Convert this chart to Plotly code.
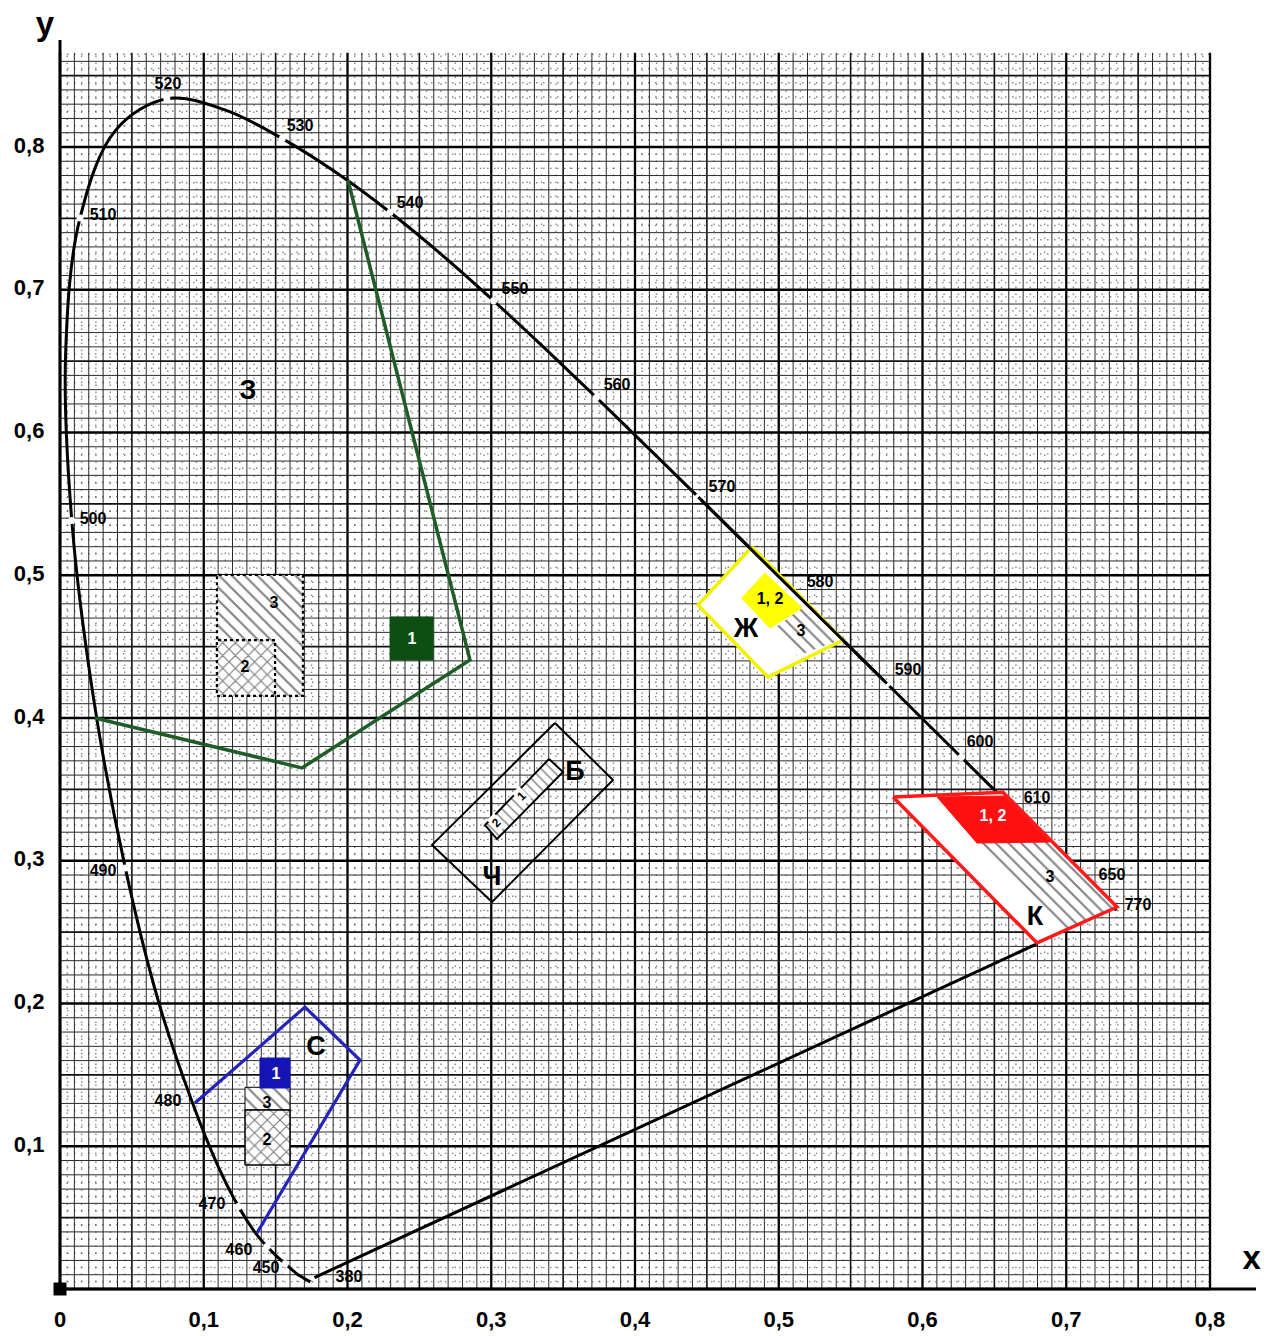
import numpy as np
import plotly.graph_objects as go

# ---------------- data ----------------
# spectral locus (wavelength, x, y)
locus_wl = [380, 440, 445, 450, 455, 460, 465, 470, 475, 480, 485, 490, 495, 500, 505, 510,
            515, 520, 525, 530, 535, 540, 545, 550, 555, 560, 565, 570, 575, 580, 585, 590,
            595, 600, 605, 610, 620, 630, 640, 650, 700]
locus_x = [0.1741, 0.1644, 0.1611, 0.1566, 0.1510, 0.1440, 0.1355, 0.1241, 0.1096, 0.0913,
           0.0687, 0.0454, 0.0235, 0.0082, 0.0039, 0.0139, 0.0389, 0.0743, 0.1142, 0.1547,
           0.1929, 0.2296, 0.2658, 0.3016, 0.3373, 0.3731, 0.4087, 0.4441, 0.4788, 0.5125,
           0.5448, 0.5752, 0.6029, 0.6270, 0.6482, 0.6658, 0.6915, 0.7079, 0.7190, 0.7260, 0.7347]
locus_y = [0.0050, 0.0109, 0.0138, 0.0177, 0.0227, 0.0297, 0.0399, 0.0578, 0.0868, 0.1327,
           0.2007, 0.2950, 0.4127, 0.5384, 0.6548, 0.7502, 0.8120, 0.8338, 0.8262, 0.8059,
           0.7816, 0.7543, 0.7243, 0.6923, 0.6589, 0.6245, 0.5896, 0.5547, 0.5202, 0.4866,
           0.4544, 0.4242, 0.3965, 0.3725, 0.3514, 0.3340, 0.3083, 0.2920, 0.2809, 0.2740, 0.2653]

# label points (gaps in the locus)
gap_wl = [450, 460, 470, 490, 500, 510, 520, 530, 540, 550, 560, 570, 590, 600]

# wavelength labels
wl_text = ["520", "530", "540", "550", "560", "570", "580", "590", "600", "610", "650", "770",
           "510", "500", "490", "480", "470", "460", "450", "380"]
wl_tx = [0.0751, 0.1670, 0.2435, 0.3165, 0.3875, 0.4605, 0.5287, 0.5899, 0.6400, 0.6797,
         0.7318, 0.7499, 0.0299, 0.0230, 0.0299, 0.0751, 0.1057, 0.1245, 0.1433, 0.2010]
wl_ty = [0.8434, 0.8140, 0.7600, 0.6998, 0.6326, 0.5611, 0.4946, 0.4329, 0.3825, 0.3433,
         0.2893, 0.2683, 0.7517, 0.5387, 0.2921, 0.1310, 0.0588, 0.0266, 0.0140, 0.0077]

# purple line
purple_x = [0.177, 0.680]
purple_y = [0.008, 0.242]

# green region (З)
green_x = [0.2003, 0.2852, 0.1683, 0.0243]
green_y = [0.7769, 0.4406, 0.3650, 0.4000]
green1_x = [0.2296, 0.2595]; green1_y = [0.4406, 0.4708]
green3_x = [0.1092, 0.1690]; green3_y = [0.4155, 0.5002]
green2_x = [0.1092, 0.1496]; green2_y = [0.4155, 0.4546]

# blue region (С)
blue_x = [0.0939, 0.1704, 0.2087, 0.1370]
blue_y = [0.1303, 0.1975, 0.1604, 0.0392]
blue1_x = [0.1391, 0.1600]; blue1_y = [0.1408, 0.1618]
blue3_x = [0.1287, 0.1600]; blue3_y = [0.1254, 0.1413]
blue2_x = [0.1287, 0.1600]; blue2_y = [0.0869, 0.1254]

# yellow region (Ж)
yel_x = [0.4814, 0.5447, 0.4925, 0.4438]
yel_y = [0.5198, 0.4546, 0.4287, 0.4792]
yel12_x = [0.4742, 0.4904, 0.5162, 0.4939]
yel12_y = [0.4839, 0.5016, 0.4771, 0.4630]
yel3_x = [0.4981, 0.5162, 0.5426, 0.5127]
yel3_y = [0.4637, 0.4771, 0.4546, 0.4434]

# red region (К)
red_x = [0.5795, 0.6560, 0.7353, 0.6797]
red_y = [0.3447, 0.3480, 0.2676, 0.2424]
red12_x = [0.6101, 0.6595, 0.6887, 0.6379]
red12_y = [0.3447, 0.3454, 0.3131, 0.3124]
red3_x = [0.6379, 0.6887, 0.7353, 0.6984]
red3_y = [0.3124, 0.3131, 0.2676, 0.2508]

# white region (Б / Ч)
wo_x = [0.3443, 0.3847, 0.3005, 0.2588]
wo_y = [0.3965, 0.3566, 0.2711, 0.3111]
wi_x = [0.3402, 0.3499, 0.3040, 0.2957]
wi_y = [0.3713, 0.3622, 0.3152, 0.3250]

# region letters
reg_text = ["З", "Ж", "Б", "Ч", "С", "К"]
reg_x = [0.1308, 0.4772, 0.3583, 0.3005, 0.1781, 0.6783]
reg_y = [0.6284, 0.4616, 0.3615, 0.2879, 0.1688, 0.2599]

# small area numbers
num_text = ["3", "2", "3", "2", "1, 2", "3", "3"]
num_x = [0.1489, 0.1287, 0.1440, 0.1440, 0.4939, 0.5155, 0.6887]
num_y = [0.4799, 0.4350, 0.1296, 0.1037, 0.4827, 0.4602, 0.2879]
wnum_text = ["1", "1", "1, 2"]
wnum_x = [0.2449, 0.1503, 0.6490]
wnum_y = [0.4546, 0.1499, 0.3306]

# ticks
x_ticks = [0, 0.1, 0.2, 0.3, 0.4, 0.5, 0.6, 0.7, 0.8]
x_ticktext = ["0", "0,1", "0,2", "0,3", "0,4", "0,5", "0,6", "0,7", "0,8"]
y_ticks = [0.1, 0.2, 0.3, 0.4, 0.5, 0.6, 0.7, 0.8]
y_ticktext = ["0,1", "0,2", "0,3", "0,4", "0,5", "0,6", "0,7", "0,8"]

# ---------------- layout constants ----------------
W, H = 1269, 1336
X0PX, XSCALE = 60, 1437.5
Y0PX, YSCALE = 1289, 1427.5
GRID_XMAX, GRID_YMAX = 0.8, 0.866
FONT = "Liberation Sans, Arial, sans-serif"

fig = go.Figure()


def grid_trace(vals, vertical, color, width, dash="solid"):
    xs, ys = [], []
    for v in vals:
        if vertical:
            xs += [v, v, None]; ys += [0, GRID_YMAX, None]
        else:
            xs += [0, GRID_XMAX, None]; ys += [v, v, None]
    return go.Scatter(x=xs, y=ys, mode="lines", line=dict(color=color, width=width, dash=dash),
                      hoverinfo="skip", showlegend=False)


steps_x = np.round(np.arange(0, 81) * 0.01, 3)
steps_y = np.round(np.arange(0, 87) * 0.01, 3)
for vertical, steps, top in [(True, steps_x, GRID_XMAX), (False, steps_y, GRID_YMAX)]:
    half = np.round(steps + 0.005, 3)
    half = half[half < top]
    fig.add_trace(grid_trace(half, vertical, "rgba(40,40,40,0.55)", 1.4, "1.5px,5.5px"))
    fine = [v for v in steps if round(v * 100) % 5 != 0]
    med = [v for v in steps if round(v * 100) % 5 == 0 and round(v * 100) % 10 != 0]
    major = [v for v in steps if round(v * 100) % 10 == 0]
    fig.add_trace(grid_trace(fine, vertical, "#2a2a2a", 1.0))
    fig.add_trace(grid_trace(med, vertical, "#111111", 1.6))
    fig.add_trace(grid_trace(major, vertical, "#000000", 2.3))

# axes lines
fig.add_trace(go.Scatter(x=[0, 0.832], y=[0, 0], mode="lines", line=dict(color="black", width=3),
                         hoverinfo="skip", showlegend=False))
fig.add_trace(go.Scatter(x=[0, 0], y=[0, 0.875], mode="lines", line=dict(color="black", width=3),
                         hoverinfo="skip", showlegend=False))
fig.add_trace(go.Scatter(x=[0], y=[0], mode="markers", marker=dict(symbol="square", size=13, color="black"),
                         hoverinfo="skip", showlegend=False))

# spectral locus
fig.add_trace(go.Scatter(x=locus_x, y=locus_y, mode="lines",
                         line=dict(color="black", width=3, shape="spline", smoothing=1.0),
                         hoverinfo="skip", showlegend=False))
gx = [locus_x[locus_wl.index(w)] for w in gap_wl]
gy = [locus_y[locus_wl.index(w)] for w in gap_wl]
fig.add_trace(go.Scatter(x=gx, y=gy, mode="markers", marker=dict(symbol="circle", size=7, color="white"),
                         hoverinfo="skip", showlegend=False))
fig.add_trace(go.Scatter(x=purple_x, y=purple_y, mode="lines", line=dict(color="black", width=3),
                         hoverinfo="skip", showlegend=False))


def closed(xs, ys):
    return list(xs) + [xs[0]], list(ys) + [ys[0]]


def rect(xr, yr):
    return [xr[0], xr[1], xr[1], xr[0], xr[0]], [yr[0], yr[0], yr[1], yr[1], yr[0]]


def poly(xs, ys, line_color=None, line_width=0, fill=None, pattern=None, dash="solid"):
    kw = dict(x=xs, y=ys, mode="lines", hoverinfo="skip", showlegend=False)
    if line_color:
        kw["line"] = dict(color=line_color, width=line_width, dash=dash)
    else:
        kw["line"] = dict(width=0, color="rgba(0,0,0,0)")
    if fill or pattern:
        kw["fill"] = "toself"
        kw["fillcolor"] = fill if fill else "white"
    if pattern:
        kw["fillpattern"] = pattern
    fig.add_trace(go.Scatter(**kw))


hatch = dict(shape="\\", fgcolor="black", bgcolor="white", size=9, solidity=0.22)
cross = dict(shape="x", fgcolor="black", bgcolor="white", size=9, solidity=0.25)

# green
x, y = rect(green3_x, green3_y)
poly(x, y, "black", 2.2, pattern=hatch, dash="dot")
x, y = rect(green2_x, green2_y)
poly(x, y, "black", 2.2, pattern=cross, dash="dot")
x, y = rect(green1_x, green1_y)
poly(x, y, "#0d4f12", 1, fill="#0d4f12")
poly(green_x, green_y, "#1f5c28", 3.5)

# blue
x, y = rect(blue3_x, blue3_y)
poly(x, y, "black", 1, pattern=hatch)
x, y = rect(blue2_x, blue2_y)
poly(x, y, "black", 1.5, pattern=cross)
x, y = rect(blue1_x, blue1_y)
poly(x, y, "#1414b4", 1, fill="#1414b4")
poly(blue_x, blue_y, "#2424b8", 3.2)

# yellow
x, y = closed(yel_x, yel_y)
poly(x, y, "#f2f200", 3.5, fill="white")
x, y = closed(yel3_x, yel3_y)
poly(x, y, None, pattern=hatch)
x, y = closed(yel12_x, yel12_y)
poly(x, y, "#ffff00", 1, fill="#ffff00")
# re-draw the locus edge over the yellow box
sel = [i for i, w in enumerate(locus_wl) if 570 <= w <= 590]
fig.add_trace(go.Scatter(x=[locus_x[i] for i in sel], y=[locus_y[i] for i in sel], mode="lines",
                         line=dict(color="black", width=3), hoverinfo="skip", showlegend=False))

# red
x, y = closed(red_x, red_y)
poly(x, y, None, fill="white")
x, y = closed(red3_x, red3_y)
poly(x, y, None, pattern=hatch)
x, y = closed(red12_x, red12_y)
poly(x, y, "#ff1010", 1, fill="#ff1010")
x, y = closed(red_x, red_y)
poly(x, y, "#ff1a1a", 3.5)

# white (Б / Ч)
x, y = closed(wo_x, wo_y)
poly(x, y, "black", 2)
x, y = closed(wi_x, wi_y)
poly(x, y, "black", 2, pattern=dict(shape="\\", fgcolor="black", bgcolor="white", size=7, solidity=0.2))

# texts
fig.add_trace(go.Scatter(x=wl_tx, y=wl_ty, mode="text", text=wl_text,
                         textfont=dict(family="Liberation Sans Narrow, " + FONT, size=16, color="black", weight="bold"),
                         hoverinfo="skip", showlegend=False, cliponaxis=False))
fig.add_trace(go.Scatter(x=reg_x, y=reg_y, mode="text", text=reg_text,
                         textfont=dict(family=FONT, size=27, color="black", weight="bold"),
                         hoverinfo="skip", showlegend=False))
fig.add_trace(go.Scatter(x=num_x, y=num_y, mode="text", text=num_text,
                         textfont=dict(family=FONT, size=16, color="black", weight="bold"),
                         hoverinfo="skip", showlegend=False))
fig.add_trace(go.Scatter(x=wnum_x, y=wnum_y, mode="text", text=wnum_text,
                         textfont=dict(family=FONT, size=16, color="white", weight="bold"),
                         hoverinfo="skip", showlegend=False))

# rotated numbers inside the small white rectangle
for t, ax_, ay_ in [("2", 0.3035, 0.3265), ("1", 0.3210, 0.3455)]:
    fig.add_annotation(x=ax_, y=ay_, text=t, showarrow=False, textangle=-45,
                       font=dict(family=FONT, size=12, color="black", weight="bold"),
                       bgcolor="white")

# tick labels
fig.add_trace(go.Scatter(x=x_ticks, y=[-0.0231] * len(x_ticks), mode="text", text=x_ticktext,
                         textfont=dict(family=FONT, size=22, color="black", weight="bold"),
                         hoverinfo="skip", showlegend=False, cliponaxis=False))
fig.add_trace(go.Scatter(x=[-0.0215] * len(y_ticks), y=y_ticks, mode="text", text=y_ticktext,
                         textfont=dict(family=FONT, size=22, color="black", weight="bold"),
                         hoverinfo="skip", showlegend=False, cliponaxis=False))
fig.add_trace(go.Scatter(x=[0.829, -0.0105], y=[0.020, 0.884], mode="text", text=["x", "y"],
                         textfont=dict(family=FONT, size=33, color="black", weight="bold"),
                         hoverinfo="skip", showlegend=False, cliponaxis=False))

fig.update_layout(
    width=W, height=H,
    margin=dict(l=0, r=0, t=0, b=0),
    paper_bgcolor="white", plot_bgcolor="white",
    xaxis=dict(range=[-X0PX / XSCALE, (W - X0PX) / XSCALE], visible=False, fixedrange=True),
    yaxis=dict(range=[(Y0PX - H) / YSCALE, Y0PX / YSCALE], visible=False, fixedrange=True),
    showlegend=False,
)

fig.write_html("out.html", config={"displayModeBar": False},
               post_script="document.body.style.margin='0';")
